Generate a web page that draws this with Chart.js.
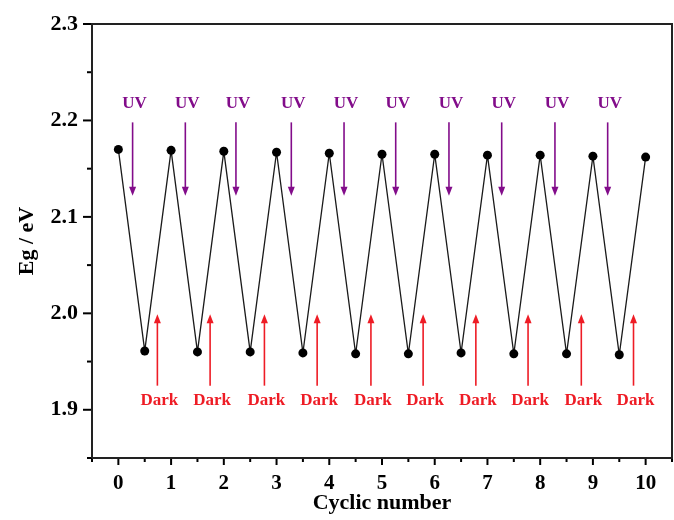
<!DOCTYPE html>
<html>
<head>
<meta charset="utf-8">
<script src="https://cdn.jsdelivr.net/npm/chart.js@4/dist/chart.umd.min.js"></script>
<style>
  html, body { margin: 0; padding: 0; background: #fff; }
  #wrap { width: 674px; height: 520px; }
</style>
</head>
<body>
<div id="wrap"><canvas id="c" width="674" height="520"></canvas></div>
<script>
// Band gap measured over repeated UV / dark cycles
const cycles = [0, 0.5, 1, 1.5, 2, 2.5, 3, 3.5, 4, 4.5, 5, 5.5, 6, 6.5, 7, 7.5, 8, 8.5, 9, 9.5, 10];
const bandGap = [2.170, 1.961, 2.169, 1.960, 2.168, 1.960, 2.167, 1.959, 2.166, 1.958, 2.165,
                 1.958, 2.165, 1.959, 2.164, 1.958, 2.164, 1.958, 2.163, 1.957, 2.162];

// Annotation arrows (x in cycle units)
const uvArrowX = [0.27, 1.27, 2.23, 3.28, 4.28, 5.26, 6.27, 7.27, 8.28, 9.28];
const darkArrowX = [0.74, 1.74, 2.77, 3.77, 4.79, 5.78, 6.78, 7.77, 8.78, 9.77];
const uvLabel = 'UV';
const darkLabel = 'Dark';

const serif = '"Liberation Serif", "Times New Roman", serif';
const isMajor = v => Math.abs(v * 10 - Math.round(v * 10)) < 1e-6;
const isInt = v => Math.abs(v - Math.round(v)) < 1e-6;

const framePlugin = {
  id: 'frame',
  afterDraw(chart) {
    const {ctx, chartArea: a, scales: {x, y}} = chart;
    ctx.save();
    ctx.strokeStyle = '#000';
    ctx.lineWidth = 2;
    // outward tick marks
    x.ticks.forEach(t => {
      const px = x.getPixelForValue(t.value);
      const len = isInt(t.value) ? 7 : 4;
      ctx.beginPath(); ctx.moveTo(px, a.bottom); ctx.lineTo(px, a.bottom + len); ctx.stroke();
    });
    y.ticks.forEach(t => {
      const py = y.getPixelForValue(t.value);
      const len = isMajor(t.value) ? 9 : 5;
      ctx.beginPath(); ctx.moveTo(a.left, py); ctx.lineTo(a.left - len, py); ctx.stroke();
    });
    // box
    ctx.strokeStyle = '#222';
    ctx.beginPath();
    ctx.moveTo(a.left, a.bottom); ctx.lineTo(a.left, a.top);
    ctx.lineTo(a.right, a.top); ctx.lineTo(a.right, a.bottom); ctx.lineTo(a.left, a.bottom);
    ctx.stroke();

    // arrows + labels
    const arrow = (xv, y0, y1, color) => {
      const px = x.getPixelForValue(xv);
      const p0 = y.getPixelForValue(y0), p1 = y.getPixelForValue(y1);
      const dir = Math.sign(p1 - p0);
      ctx.strokeStyle = color; ctx.fillStyle = color; ctx.lineWidth = 1.6;
      ctx.beginPath(); ctx.moveTo(px, p0); ctx.lineTo(px, p1 - dir * 6); ctx.stroke();
      ctx.beginPath();
      ctx.moveTo(px, p1); ctx.lineTo(px - 3.5, p1 - dir * 9); ctx.lineTo(px + 3.5, p1 - dir * 9);
      ctx.closePath(); ctx.fill();
    };
    ctx.font = 'bold 17px ' + serif;
    ctx.textAlign = 'center'; ctx.textBaseline = 'middle';
    uvArrowX.forEach(xv => {
      arrow(xv, 2.198, 2.122, '#820c8a');
      ctx.fillStyle = '#820c8a';
      ctx.fillText(uvLabel, x.getPixelForValue(xv) + 2, y.getPixelForValue(2.217));
    });
    darkArrowX.forEach(xv => {
      arrow(xv, 1.925, 1.999, '#ee1c25');
      ctx.fillStyle = '#ee1c25';
      ctx.fillText(darkLabel, x.getPixelForValue(xv) + 2, y.getPixelForValue(1.909));
    });
    ctx.restore();
  }
};

new Chart(document.getElementById('c'), {
  type: 'line',
  data: {
    labels: cycles,
    datasets: [{
      data: cycles.map((c, i) => ({x: c, y: bandGap[i]})),
      borderColor: '#1a1a1a',
      borderWidth: 1.3,
      tension: 0,
      pointRadius: 4.5,
      pointBackgroundColor: '#000',
      pointBorderColor: '#000',
      pointBorderWidth: 0,
      clip: false
    }]
  },
  options: {
    responsive: false,
    animation: false,
    events: [],
    layout: {autoPadding: false, padding: {top: 24, right: 2, left: 0, bottom: 0}},
    plugins: {legend: {display: false}, tooltip: {enabled: false}},
    scales: {
      x: {
        type: 'linear',
        min: -0.5, max: 10.5,
        afterFit: s => { s.height = 62; s.paddingLeft = 0; s.paddingRight = 0; },
        afterBuildTicks: s => {
          const t = [];
          for (let k = -1; k <= 21; k++) t.push({value: k / 2});
          s.ticks = t;
        },
        ticks: {
          autoSkip: false, maxRotation: 0, padding: 13, color: '#000',
          font: {family: serif, size: 21, weight: 'bold'},
          callback: v => (isInt(v) && v >= 0 ? String(Math.round(v)) : '')
        },
        grid: {display: true, drawOnChartArea: false, drawTicks: false},
        border: {display: false},
        title: {display: true, text: 'Cyclic number', color: '#000', padding: {top: 0, bottom: 3},
                font: {family: serif, size: 22, weight: 'bold'}}
      },
      y: {
        min: 1.85, max: 2.3,
        afterFit: s => { s.width = 92; s.paddingTop = 0; s.paddingBottom = 0; },
        afterBuildTicks: s => {
          const t = [];
          for (let k = 0; k <= 9; k++) t.push({value: Math.round((1.85 + k * 0.05) * 100) / 100});
          s.ticks = t;
        },
        ticks: {
          autoSkip: false, padding: 14, color: '#000',
          font: {family: serif, size: 22, weight: 'bold'},
          callback: v => (isMajor(v) ? v.toFixed(1) : '')
        },
        grid: {display: true, drawOnChartArea: false, drawTicks: false},
        border: {display: false},
        title: {display: true, text: 'Eg / eV', color: '#000', padding: {top: 14, bottom: 0},
                font: {family: serif, size: 22, weight: 'bold'}}
      }
    }
  },
  plugins: [framePlugin]
});
</script>
</body>
</html>
